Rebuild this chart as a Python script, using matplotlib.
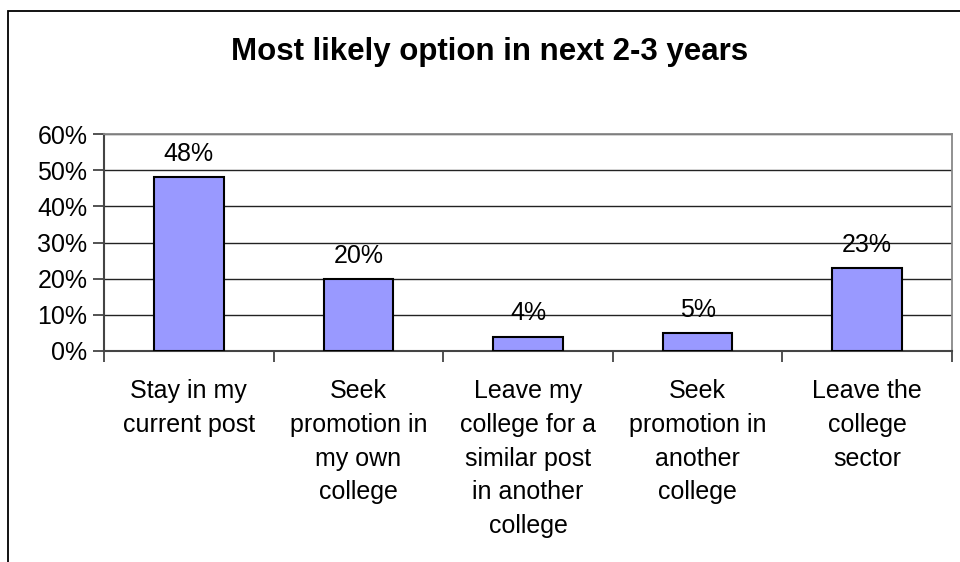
import matplotlib.pyplot as plt
from matplotlib.patches import Rectangle

plt.rcParams['font.family'] = ['Liberation Sans', 'DejaVu Sans']

options = ['Stay in my\ncurrent post',
           'Seek\npromotion in\nmy own\ncollege',
           'Leave my\ncollege for a\nsimilar post\nin another\ncollege',
           'Seek\npromotion in\nanother\ncollege',
           'Leave the\ncollege\nsector']
shares = [48, 20, 4, 5, 23]
y_ticks = [0, 10, 20, 30, 40, 50, 60]

W, H = 960, 562
fig = plt.figure(figsize=(9.6, 5.62), dpi=100)

# chart area border, left/top edges only show
fig.patches.append(Rectangle((8 / W, -0.1), 1.2, 1 - 11 / H + 0.1,
                             transform=fig.transFigure, fill=False,
                             edgecolor='black', linewidth=1.3))

ax = fig.add_axes([104 / W, 1 - 351 / H, (952 - 104) / W, (351 - 134) / H])

x = list(range(len(options)))
bars = ax.bar(x, shares, width=0.41, color='#9999ff', edgecolor='black',
              linewidth=1.5, zorder=3)

for b, v in zip(bars, shares):
    ax.annotate(f'{v}%', (b.get_x() + b.get_width() / 2, v),
                xytext=(0, 8), textcoords='offset points',
                ha='center', va='bottom', fontsize=18)

ax.set_xlim(-0.5, len(options) - 0.5)
ax.set_ylim(0, 60)
ax.set_yticks(y_ticks)
ax.set_yticklabels([f'{t}%' for t in y_ticks], fontsize=18)
ax.yaxis.grid(True, color='#222222', linewidth=1)
ax.set_axisbelow(True)

ax.set_xticks(x)
ax.set_xticklabels(options, fontsize=18, linespacing=1.52, va='top')
ax.tick_params(axis='x', length=0, pad=20)
ax.set_xticks([i - 0.5 for i in range(len(options) + 1)], minor=True)
ax.tick_params(axis='x', which='minor', length=8, color='#444444', width=1.3)
ax.tick_params(axis='y', length=8, color='#444444', width=1.3, pad=4)

for side in ['top', 'right']:
    ax.spines[side].set_color('#888888')
    ax.spines[side].set_linewidth(1.3)
for side in ['left', 'bottom']:
    ax.spines[side].set_color('#444444')
    ax.spines[side].set_linewidth(1.5)

fig.text(490 / W, 1 - 52 / H, 'Most likely option in next 2-3 years',
         ha='center', va='center', fontsize=22.5, fontweight='bold')

fig.savefig('out.png', dpi=100)
